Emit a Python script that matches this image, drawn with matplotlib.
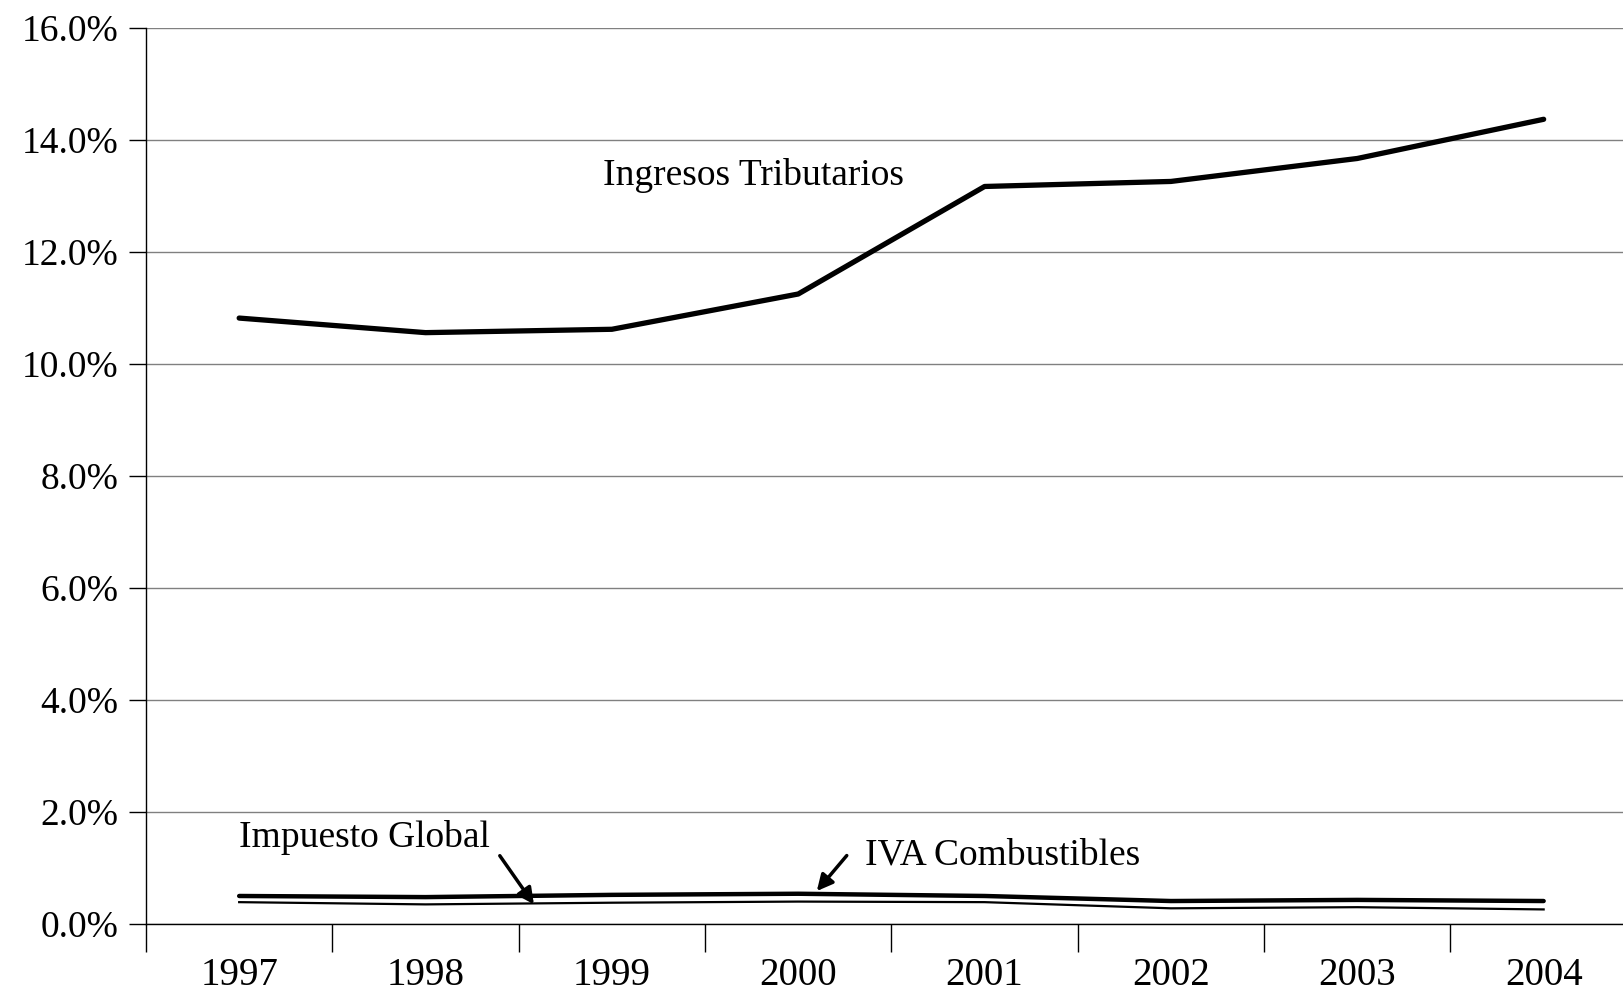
import numpy as np
import matplotlib.pyplot as plt
from matplotlib.ticker import FuncFormatter

plt.rcParams['font.family'] = ['Liberation Serif', 'DejaVu Serif']

years = ['1997', '1998', '1999', '2000', '2001', '2002', '2003', '2004']
ingresos = [10.82, 10.56, 10.62, 11.25, 13.17, 13.26, 13.67, 14.37]
iva_comb = [0.50, 0.48, 0.52, 0.54, 0.50, 0.41, 0.43, 0.41]
imp_global = [0.39, 0.35, 0.38, 0.40, 0.39, 0.28, 0.30, 0.26]

fig = plt.figure(figsize=(16.24, 9.93), dpi=100)
ax = fig.add_axes([0.0899, 0.0695, 0.918, 0.9023])

x = np.arange(len(years))
ax.plot(x, ingresos, color='k', lw=3.8, solid_capstyle='round')
ax.plot(x, iva_comb, color='k', lw=3.2, solid_capstyle='round')
ax.plot(x, imp_global, color='k', lw=1.6)

ax.set_xlim(-0.5, len(years) - 0.5)
ax.set_ylim(0, 16)
ax.set_yticks(np.arange(0, 17, 2))
ax.yaxis.set_major_formatter(FuncFormatter(lambda v, p: f'{v:.1f}%'))
ax.grid(axis='y', color='#808080', lw=1)
ax.set_axisbelow(True)

ax.set_xticks(np.arange(-0.5, len(years), 1))
ax.set_xticklabels([])
ax.set_xticks(x, minor=True)
ax.set_xticklabels(years, minor=True)
ax.tick_params(axis='x', which='major', length=20, width=1, direction='out')
ax.tick_params(axis='x', which='minor', length=0, pad=24, labelsize=28)
ax.tick_params(axis='y', length=12, width=1, labelsize=27, pad=8)

for s in ['top', 'right']:
    ax.spines[s].set_visible(False)
ax.spines['left'].set_linewidth(1)
ax.spines['bottom'].set_linewidth(1)

ax.text(2.76, 13.36, 'Ingresos Tributarios', fontsize=27, ha='center', va='center')
ax.text(0.67, 1.55, 'Impuesto Global', fontsize=27, ha='center', va='center')
ax.text(3.36, 1.22, 'IVA Combustibles', fontsize=27, ha='left', va='center')
ax.annotate('', xy=(1.59, 0.31), xytext=(1.39, 1.26),
            arrowprops=dict(arrowstyle='-|>', color='k', lw=2.5, mutation_scale=24))
ax.annotate('', xy=(3.09, 0.55), xytext=(3.27, 1.26),
            arrowprops=dict(arrowstyle='-|>', color='k', lw=2.5, mutation_scale=24))

fig.savefig('out.png', dpi=100)
